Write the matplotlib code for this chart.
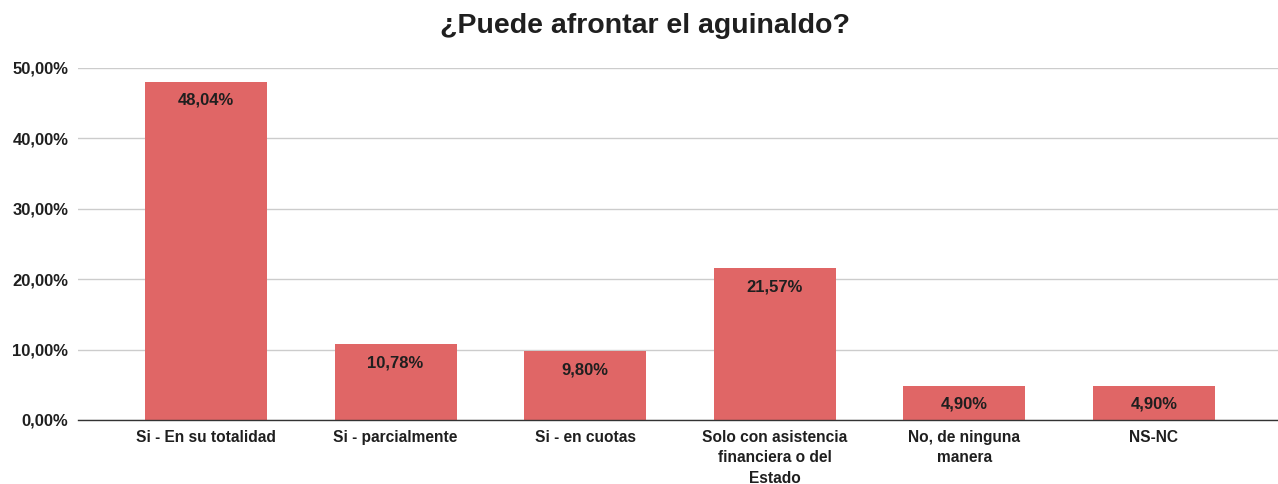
import matplotlib
matplotlib.use("Agg")
import matplotlib.pyplot as plt

categories = ["Si - En su totalidad", "Si - parcialmente", "Si - en cuotas",
              "Solo con asistencia\nfinanciera o del\nEstado", "No, de ninguna\nmanera", "NS-NC"]
values = [48.04, 10.78, 9.80, 21.57, 4.90, 4.90]
value_labels = ["48,04%", "10,78%", "9,80%", "21,57%", "4,90%", "4,90%"]
yticks = [0, 10, 20, 30, 40, 50]
ytick_labels = ["0,00%", "10,00%", "20,00%", "30,00%", "40,00%", "50,00%"]
title = "¿Puede afrontar el aguinaldo?"

plt.rcParams['font.family'] = ['Liberation Sans', 'DejaVu Sans']
txt = "#1f1f1f"

fig = plt.figure(figsize=(12.78, 4.84), dpi=100)
ax = fig.add_axes([78/1278, 1-420/484, 1-78/1278, (420-68)/484])

x = list(range(len(categories)))
bars = ax.bar(x, values, width=0.643, color="#E06666", zorder=3)
for xi, v, lab in zip(x, values, value_labels):
    ax.annotate(lab, (xi, v), xytext=(0, -8), textcoords="offset points",
                ha="center", va="top", fontsize=12, fontweight="bold", color=txt, zorder=4)

ax.set_xlim(-0.675, 5.654)
ax.set_ylim(0, 50)
ax.set_yticks(yticks)
ax.set_yticklabels(ytick_labels, fontsize=12, fontweight="bold", color=txt)
ax.set_xticks(x)
ax.set_xticklabels(categories, fontsize=11.2, fontweight="bold", color=txt, linespacing=1.45)
ax.tick_params(axis="both", length=0)
ax.tick_params(axis="x", pad=7)
ax.tick_params(axis="y", pad=7)
ax.grid(axis="y", color="#cccccc", linewidth=1, zorder=0)
for s in ["top", "right", "left"]:
    ax.spines[s].set_visible(False)
ax.spines["bottom"].set_color("#333333")
ax.spines["bottom"].set_linewidth(1)
ax.spines["bottom"].set_zorder(5)

fig.text(645/1278, 1-26/484, title, ha="center", va="center", fontsize=20.5, fontweight="bold", color=txt)

fig.savefig("out.png", dpi=100)
